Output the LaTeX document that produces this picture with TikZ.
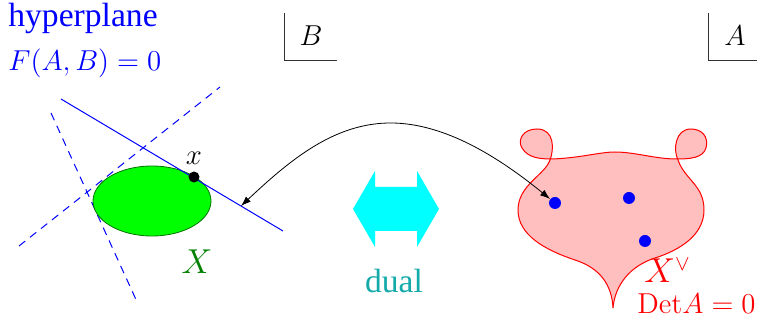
\documentclass[tikz,border=0pt]{standalone}
\usepackage[no-math]{fontspec}
\setmainfont{Liberation Serif}
\usetikzlibrary{shapes.geometric, arrows.meta, positioning}
\definecolor{dualcol}{RGB}{20,170,170}
\definecolor{arrowcyan}{RGB}{0,255,255}

\begin{document}
\begin{tikzpicture}[
    x=0.5pt, y=-0.5pt,
    word/.style={font=\fontsize{16.8}{19}\selectfont},
    sym/.style={font=\fontsize{13.5}{16}\selectfont},
    bigsym/.style={font=\fontsize{16}{19}\selectfont},
    plane/.style={blue, line width=0.5pt},
    tplane/.style={plane, dash pattern=on 4pt off 3pt},
    dot/.style={circle, fill, inner sep=0pt, minimum size=5.5pt},
    corner/.style={line width=0.4pt, black!80},
    link/.style={{Latex[length=5pt,width=3.5pt]}-{Latex[length=5pt,width=3.5pt]}, line width=0.4pt}
  ]
    \useasboundingbox (0,0) rectangle (757,320);

    % labels top left
    \node[word, blue, anchor=base west, inner sep=0pt] (hyp) at (8,27) {hyperplane};
    \node[sym, blue, anchor=base west, inner sep=0pt] (eqn) at (8,71) {$F(A,B)=0$};

    % coordinate corners
    \draw[corner] (284,13) -- (284,60) -- (337,60);
    \node[sym] (Bl) at (311,36) {$B$};
    \draw[corner] (708,13) -- (708,60) -- (757,60);
    \node[sym] (Al) at (735,36) {$A$};

    % variety X and its tangent planes
    \draw[tplane] (19,246) -- (220,87);
    \draw[tplane] (51,113) -- (138,304);
    \node[ellipse, draw=green!45!black, fill=green, minimum width=59pt, minimum height=35pt, inner sep=0pt] (X) at (152,201) {};
    \draw[plane] (61,99) -- (283,231);
    \node[dot, black] (xdot) at (194,177) {};
    \node[sym, above=0pt of xdot] (xlab) {$x$};
    \node[bigsym, green!50!black] (Xl) at (197,262) {$X$};
    \coordinate (touch) at (241,206);

    % dual arrow
    \fill[arrowcyan] (353,209) -- (375,171) -- (375,187) -- (417,187) -- (417,171) -- (439,209)
      -- (417,247) -- (417,231) -- (375,231) -- (375,247) -- cycle;
    \node[word, dualcol, anchor=base] (dual) at (394,293) {dual};

    % dual variety
    \draw[red, fill=red!25, line width=0.5pt]
      (613,308) .. controls (612,285) and (600,268) .. (575,260)
      .. controls (545,250) and (518,235) .. (518,210)
      .. controls (518,185) and (545,175) .. (550,160)
      .. controls (554,150) and (555,129) .. (537,129)
      .. controls (523,129) and (517,140) .. (522,148)
      .. controls (528,158) and (540,159) .. (552,159)
      .. controls (580,158) and (600,152) .. (615,152)
      .. controls (635,152) and (655,159) .. (677,159)
      .. controls (690,159) and (703,158) .. (706,148)
      .. controls (709,137) and (702,129) .. (691,129)
      .. controls (675,129) and (673,150) .. (678,160)
      .. controls (685,180) and (704,185) .. (704,210)
      .. controls (704,235) and (680,250) .. (655,258)
      .. controls (630,266) and (615,285) .. (613,308) -- cycle;
    \node[dot, blue, minimum size=6pt] (d1) at (555,203) {};
    \node[dot, blue, minimum size=6pt] (d2) at (629,198) {};
    \node[dot, blue, minimum size=6pt] (d3) at (645,241) {};
    \node[bigsym, red, anchor=base west, inner sep=0pt] (Xv) at (644,283) {$X^\vee$};
    \node[sym, red, anchor=base east, inner sep=0pt] (det) at (756,314) {$\mathrm{Det}A=0$};

    % correspondence
    \coordinate (peak) at (393,123);
    \draw[link] (touch) .. controls (290,160) and (335,122) .. (peak)
      .. controls (440,124) and (490,150) .. (d1);
  \end{tikzpicture}
\end{document}
